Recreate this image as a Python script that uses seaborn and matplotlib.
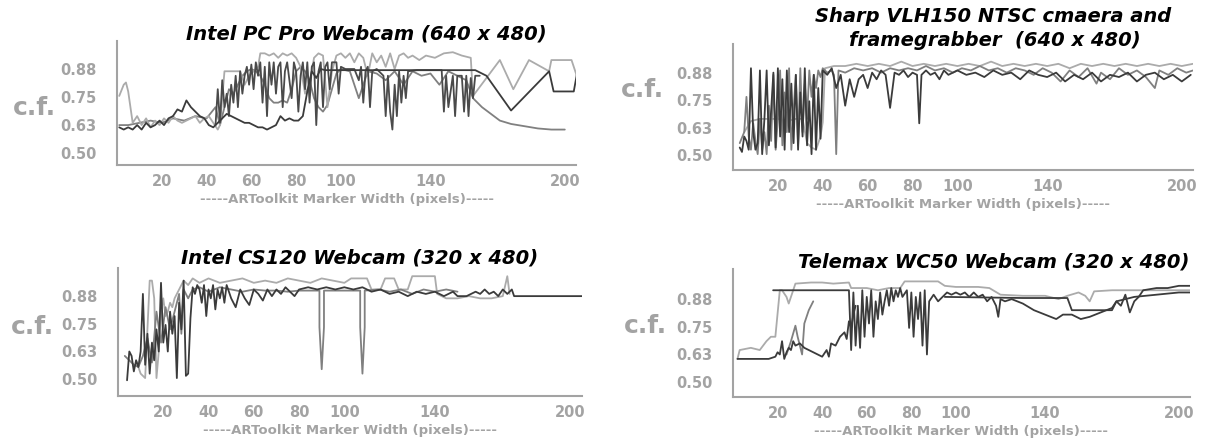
import seaborn as sns
import matplotlib.pyplot as plt

# ---- data: (marker width, c.f.) pairs ----
# Intel PC Pro Webcam (640 x 480)
pcpro_dark = [(1, 0.61), (3, 0.60), (5, 0.61), (7, 0.60), (9, 0.62), (11, 0.60), (13, 0.63), (15, 0.61),
              (17, 0.62), (19, 0.64), (21, 0.62), (23, 0.65), (25, 0.66), (27, 0.69), (29, 0.68), (31, 0.73),
              (33, 0.70), (35, 0.68), (37, 0.66), (39, 0.65), (41, 0.62), (43, 0.61), (45, 0.63), (47, 0.65),
              (49, 0.67), (51, 0.66), (53, 0.65), (55, 0.64), (57, 0.63), (59, 0.63), (61, 0.62), (63, 0.61),
              (65, 0.61), (67, 0.60), (69, 0.61), (71, 0.62), (73, 0.66), (75, 0.64), (77, 0.65), (79, 0.64),
              (81, 0.64), (83, 0.66), (85, 0.77), (87, 0.86), (89, 0.83), (91, 0.87), (93, 0.865), (100, 0.865),
              (120, 0.865), (140, 0.865), (160, 0.865), (165, 0.84), (176, 0.685), (193, 0.86), (195, 0.77),
              (204, 0.77), (206, 0.88)]
pcpro_spiky = [(44, 0.62), (45, 0.78), (46, 0.63), (47, 0.82), (48, 0.70), (49, 0.76), (50, 0.66), (51, 0.80),
               (52, 0.72), (53, 0.84), (54, 0.70), (55, 0.86), (56, 0.76), (57, 0.84), (58, 0.88), (59, 0.80),
               (60, 0.89), (61, 0.78), (62, 0.90), (63, 0.84), (64, 0.90), (65, 0.72), (66, 0.88), (67, 0.66),
               (68, 0.90), (69, 0.80), (70, 0.90), (71, 0.76), (72, 0.88), (73, 0.90), (74, 0.70), (75, 0.86),
               (76, 0.90), (77, 0.82), (78, 0.74), (79, 0.90), (80, 0.86), (81, 0.68), (82, 0.84), (83, 0.90),
               (84, 0.78), (85, 0.90), (86, 0.72), (87, 0.88), (88, 0.90), (89, 0.62), (90, 0.86), (91, 0.90),
               (92, 0.70), (93, 0.88), (94, 0.90), (95, 0.78), (96, 0.90), (98, 0.90), (99, 0.76), (100, 0.88),
               (102, 0.87), (106, 0.87), (108, 0.82), (109, 0.88), (110, 0.72), (111, 0.86), (112, 0.88),
               (113, 0.70), (114, 0.86), (116, 0.87), (119, 0.84), (120, 0.66), (121, 0.84), (122, 0.68),
               (123, 0.60), (124, 0.80), (125, 0.66), (126, 0.86), (127, 0.72), (128, 0.84), (129, 0.74),
               (130, 0.86), (134, 0.865), (140, 0.865), (145, 0.865), (146, 0.68), (147, 0.84), (148, 0.70),
               (150, 0.84), (151, 0.66), (152, 0.84), (154, 0.84), (155, 0.68), (156, 0.84), (157, 0.66),
               (158, 0.83), (159, 0.74), (160, 0.84), (162, 0.84)]
pcpro_mid = [(1, 0.62), (5, 0.62), (10, 0.63), (15, 0.64), (20, 0.63), (25, 0.65), (30, 0.64), (35, 0.66),
             (40, 0.65), (44, 0.70), (46, 0.62), (48, 0.70), (50, 0.78), (52, 0.76), (54, 0.80), (56, 0.84),
             (58, 0.86), (60, 0.87), (62, 0.86), (64, 0.84), (66, 0.80), (68, 0.74), (70, 0.72), (72, 0.72),
             (74, 0.73), (76, 0.72), (78, 0.78), (80, 0.86), (82, 0.88), (84, 0.86), (86, 0.82), (88, 0.74),
             (90, 0.70), (92, 0.68), (94, 0.71), (96, 0.78), (98, 0.85), (100, 0.87), (104, 0.86), (108, 0.74),
             (112, 0.86), (116, 0.85), (120, 0.82), (124, 0.86), (128, 0.80), (132, 0.86), (136, 0.84),
             (140, 0.85), (144, 0.80), (148, 0.86), (152, 0.84), (156, 0.82), (159, 0.74), (163, 0.70),
             (167, 0.67), (171, 0.64), (176, 0.625), (182, 0.615), (188, 0.605), (194, 0.60), (200, 0.60)]
pcpro_light = [(1, 0.75), (3, 0.80), (4, 0.81), (5, 0.77), (7, 0.63), (9, 0.66), (11, 0.62), (13, 0.65),
               (15, 0.61), (17, 0.64), (19, 0.62), (21, 0.65), (23, 0.63), (25, 0.66), (27, 0.64), (29, 0.63),
               (31, 0.64), (33, 0.65), (35, 0.66), (37, 0.63), (39, 0.65), (41, 0.66), (43, 0.63), (45, 0.60),
               (46, 0.62), (48, 0.86), (55, 0.86), (57, 0.80), (59, 0.84), (61, 0.86), (63, 0.88), (64, 0.94),
               (66, 0.94), (68, 0.93), (70, 0.94), (72, 0.92), (74, 0.94), (76, 0.93), (78, 0.94), (80, 0.92),
               (82, 0.88), (84, 0.76), (86, 0.80), (88, 0.92), (90, 0.94), (92, 0.93), (94, 0.70), (96, 0.86),
               (98, 0.93), (100, 0.94), (102, 0.92), (104, 0.94), (106, 0.90), (108, 0.94), (110, 0.92),
               (112, 0.84), (114, 0.94), (116, 0.90), (118, 0.93), (120, 0.88), (122, 0.94), (124, 0.87),
               (126, 0.93), (128, 0.94), (130, 0.92), (132, 0.93), (135, 0.91), (138, 0.93), (142, 0.92),
               (146, 0.94), (150, 0.945), (154, 0.93), (158, 0.92), (159, 0.75), (171, 0.91), (177, 0.78),
               (184, 0.91), (193, 0.86), (194, 0.91), (203, 0.91), (206, 0.82)]

# Sharp VLH150 NTSC camera and framegrabber (640 x 480)
sharp_dark = [(3, 0.53), (4, 0.51), (5, 0.58), (6, 0.56), (7, 0.52), (8, 0.89), (9, 0.60), (10, 0.52),
              (11, 0.55), (12, 0.88), (13, 0.50), (14, 0.66), (15, 0.88), (16, 0.54), (17, 0.70), (18, 0.87),
              (19, 0.53), (20, 0.89), (21, 0.58), (22, 0.84), (23, 0.52), (24, 0.88), (25, 0.60), (26, 0.82),
              (27, 0.55), (28, 0.86), (29, 0.52), (30, 0.78), (31, 0.58), (32, 0.89), (33, 0.54), (34, 0.74),
              (35, 0.50), (36, 0.86), (37, 0.52), (38, 0.80), (39, 0.57), (40, 0.88), (42, 0.86), (44, 0.89),
              (46, 0.80), (48, 0.86), (50, 0.72), (52, 0.84), (54, 0.76), (56, 0.84), (58, 0.86), (60, 0.80),
              (62, 0.87), (64, 0.84), (66, 0.88), (68, 0.86), (70, 0.71), (72, 0.87), (74, 0.86), (76, 0.88),
              (78, 0.85), (80, 0.87), (82, 0.86), (83, 0.64), (84, 0.86), (86, 0.88), (88, 0.86), (90, 0.87),
              (92, 0.84), (94, 0.88), (96, 0.86), (98, 0.87), (100, 0.88), (104, 0.86), (108, 0.87),
              (112, 0.85), (116, 0.88), (120, 0.86), (124, 0.87), (128, 0.84), (132, 0.88), (136, 0.86),
              (140, 0.85), (144, 0.87), (148, 0.83), (152, 0.86), (156, 0.84), (160, 0.87), (164, 0.83),
              (168, 0.86), (172, 0.85), (176, 0.87), (180, 0.83), (184, 0.86), (188, 0.87), (192, 0.84),
              (196, 0.86), (200, 0.83), (204, 0.86)]
sharp_mid = [(3, 0.55), (5, 0.60), (6, 0.76), (7, 0.58), (8, 0.52), (9, 0.64), (10, 0.56), (11, 0.50),
             (12, 0.66), (13, 0.52), (14, 0.60), (15, 0.50), (16, 0.72), (17, 0.56), (18, 0.86), (19, 0.52),
             (20, 0.66), (21, 0.88), (22, 0.54), (23, 0.78), (24, 0.60), (25, 0.89), (26, 0.52), (27, 0.70),
             (28, 0.86), (29, 0.54), (30, 0.89), (31, 0.60), (32, 0.82), (33, 0.66), (34, 0.88), (35, 0.76),
             (36, 0.86), (37, 0.80), (38, 0.88), (39, 0.85), (40, 0.89), (42, 0.87), (44, 0.88), (45, 0.86),
             (46, 0.50), (47, 0.88), (50, 0.87), (54, 0.89), (58, 0.88), (62, 0.89), (66, 0.87), (70, 0.89),
             (74, 0.88), (78, 0.89), (82, 0.88), (86, 0.90), (90, 0.88), (94, 0.89), (98, 0.87), (102, 0.89),
             (106, 0.88), (110, 0.90), (114, 0.88), (118, 0.89), (122, 0.87), (126, 0.89), (130, 0.88),
             (134, 0.86), (138, 0.89), (142, 0.87), (146, 0.83), (150, 0.88), (154, 0.85), (158, 0.89),
             (162, 0.82), (164, 0.87), (168, 0.84), (172, 0.89), (176, 0.86), (180, 0.88), (184, 0.85),
             (188, 0.80), (190, 0.88), (194, 0.86), (198, 0.89), (202, 0.87), (205, 0.88)]
sharp_light = [(5, 0.60), (8, 0.65), (12, 0.66), (16, 0.66), (20, 0.66), (24, 0.65), (28, 0.66), (31, 0.66),
               (33, 0.55), (35, 0.53), (37, 0.52), (39, 0.58), (40, 0.645), (41, 0.89), (45, 0.90), (50, 0.90),
               (55, 0.91), (60, 0.90), (65, 0.91), (70, 0.90), (75, 0.92), (80, 0.90), (85, 0.91), (90, 0.90),
               (95, 0.91), (100, 0.90), (105, 0.91), (110, 0.90), (115, 0.92), (120, 0.90), (125, 0.91),
               (130, 0.90), (135, 0.91), (140, 0.90), (145, 0.91), (150, 0.89), (155, 0.91), (160, 0.90),
               (165, 0.91), (170, 0.90), (175, 0.91), (180, 0.90), (185, 0.91), (190, 0.90), (195, 0.91),
               (200, 0.90), (205, 0.91)]

# Intel CS120 Webcam (320 x 480)
cs120_dark = [(4, 0.49), (5, 0.62), (6, 0.60), (7, 0.53), (8, 0.58), (9, 0.55), (10, 0.62), (11, 0.88),
              (12, 0.56), (13, 0.70), (14, 0.52), (15, 0.66), (16, 0.58), (17, 0.72), (18, 0.62), (19, 0.93),
              (20, 0.66), (21, 0.74), (22, 0.62), (23, 0.80), (24, 0.70), (25, 0.78), (26, 0.50), (27, 0.84),
              (28, 0.72), (29, 0.94), (30, 0.51), (31, 0.52), (32, 0.77), (33, 0.91), (34, 0.88), (35, 0.92),
              (36, 0.90), (37, 0.84), (38, 0.92), (39, 0.78), (40, 0.90), (41, 0.86), (42, 0.92), (43, 0.81),
              (44, 0.90), (45, 0.86), (46, 0.91), (47, 0.84), (48, 0.92), (50, 0.86), (52, 0.82), (54, 0.90),
              (56, 0.86), (58, 0.83), (60, 0.90), (62, 0.88), (64, 0.85), (66, 0.90), (68, 0.87), (70, 0.90),
              (72, 0.88), (74, 0.91), (76, 0.89), (78, 0.87), (80, 0.90), (84, 0.91), (88, 0.90), (92, 0.91),
              (96, 0.90), (100, 0.91), (104, 0.90), (108, 0.91), (112, 0.89), (116, 0.90), (120, 0.88),
              (124, 0.89), (128, 0.87), (132, 0.89), (136, 0.88), (140, 0.89), (144, 0.87), (148, 0.89),
              (150, 0.87), (154, 0.87), (158, 0.89), (160, 0.88), (162, 0.90), (164, 0.88), (166, 0.89),
              (168, 0.87), (170, 0.90), (172, 0.88), (174, 0.90), (175, 0.87), (205, 0.87)]
cs120_mid = [(3, 0.60), (5, 0.58), (7, 0.56), (9, 0.55), (11, 0.60), (13, 0.68), (15, 0.57), (17, 0.80),
             (19, 0.66), (21, 0.82), (23, 0.72), (25, 0.80), (27, 0.88), (28, 0.70), (29, 0.90), (31, 0.86),
             (33, 0.90), (36, 0.91), (40, 0.89), (45, 0.91), (50, 0.90), (55, 0.89), (60, 0.90), (65, 0.895),
             (70, 0.895), (75, 0.89), (80, 0.895), (85, 0.895), (89, 0.895), (89, 0.73), (90, 0.54), (91, 0.73),
             (91, 0.895), (100, 0.895), (107, 0.895), (107, 0.73), (108, 0.52), (109, 0.73), (109, 0.895),
             (115, 0.90), (120, 0.89), (125, 0.90), (130, 0.88), (135, 0.90), (140, 0.89), (145, 0.90),
             (150, 0.89)]
cs120_light = [(8, 0.58), (10, 0.52), (12, 0.50), (14, 0.94), (15, 0.94), (16, 0.86), (17, 0.50), (18, 0.62),
               (19, 0.80), (20, 0.86), (21, 0.78), (22, 0.80), (23, 0.84), (24, 0.82), (25, 0.86), (27, 0.90),
               (29, 0.94), (31, 0.92), (33, 0.95), (36, 0.93), (40, 0.95), (45, 0.93), (50, 0.94), (55, 0.95),
               (60, 0.93), (65, 0.94), (70, 0.93), (75, 0.95), (80, 0.94), (85, 0.93), (90, 0.95), (95, 0.94),
               (100, 0.93), (103, 0.95), (110, 0.95), (112, 0.90), (116, 0.90), (118, 0.95), (122, 0.95),
               (124, 0.90), (128, 0.90), (130, 0.96), (140, 0.96), (141, 0.88), (145, 0.86), (150, 0.86),
               (155, 0.87), (160, 0.86), (165, 0.86), (170, 0.87), (172, 0.96), (173, 0.88)]

# Telemax WC50 Webcam (320 x 480)
telemax_dark = [(18, 0.91), (52, 0.91), (53, 0.64), (54, 0.90), (55, 0.66), (56, 0.84), (57, 0.65), (58, 0.91),
                (59, 0.70), (60, 0.88), (61, 0.76), (62, 0.91), (63, 0.70), (64, 0.86), (65, 0.78), (66, 0.90),
                (67, 0.80), (68, 0.86), (69, 0.91), (70, 0.84), (71, 0.92), (72, 0.86), (73, 0.91), (74, 0.88),
                (75, 0.92), (76, 0.88), (78, 0.91), (79, 0.74), (80, 0.90), (81, 0.70), (82, 0.88), (83, 0.78),
                (84, 0.90), (85, 0.66), (86, 0.91), (87, 0.62), (88, 0.86), (90, 0.89), (92, 0.86), (94, 0.88),
                (96, 0.90), (98, 0.89), (100, 0.90), (102, 0.89), (104, 0.90), (106, 0.88), (108, 0.90),
                (110, 0.88), (112, 0.89), (114, 0.86), (116, 0.88), (118, 0.84), (119, 0.79), (120, 0.87),
                (122, 0.86), (125, 0.87), (130, 0.85), (135, 0.82), (140, 0.80), (145, 0.78), (148, 0.80),
                (152, 0.80), (156, 0.78), (160, 0.79), (165, 0.81), (170, 0.83), (172, 0.86), (174, 0.84),
                (176, 0.89), (178, 0.81), (180, 0.86), (182, 0.88), (184, 0.91), (190, 0.92), (195, 0.92),
                (200, 0.93), (205, 0.93)]
telemax_low = [(2, 0.60), (5, 0.60), (8, 0.60), (12, 0.60), (16, 0.60), (19, 0.61), (20, 0.63), (21, 0.62),
               (22, 0.68), (23, 0.60), (24, 0.63), (25, 0.65), (26, 0.64), (27, 0.68), (28, 0.66), (30, 0.67),
               (32, 0.65), (34, 0.64), (36, 0.63), (38, 0.62), (40, 0.61), (42, 0.64), (43, 0.61), (44, 0.67),
               (46, 0.66), (48, 0.70), (50, 0.72), (51, 0.69), (52, 0.77), (53, 0.74), (54, 0.80), (55, 0.84)]
telemax_flat = [(95, 0.88), (130, 0.875), (150, 0.875), (152, 0.82), (170, 0.82), (172, 0.86), (180, 0.88),
                (200, 0.90), (205, 0.90)]
telemax_mid = [(24, 0.62), (26, 0.68), (28, 0.75), (29, 0.70), (31, 0.62), (32, 0.76), (34, 0.82), (36, 0.86)]
telemax_light = [(2, 0.60), (3, 0.64), (8, 0.65), (12, 0.64), (15, 0.68), (17, 0.70), (19, 0.70), (21, 0.91),
                 (22, 0.91), (24, 0.88), (25, 0.85), (27, 0.91), (28, 0.94), (35, 0.945), (40, 0.945),
                 (45, 0.94), (52, 0.945), (53, 0.92), (60, 0.92), (65, 0.91), (70, 0.92), (75, 0.92),
                 (77, 0.95), (85, 0.95), (92, 0.95), (95, 0.93), (100, 0.925), (110, 0.925), (115, 0.92),
                 (120, 0.89), (130, 0.885), (140, 0.885), (146, 0.87), (150, 0.885), (155, 0.90), (158, 0.885),
                 (160, 0.86), (162, 0.905), (170, 0.91), (180, 0.91), (190, 0.91), (200, 0.91), (205, 0.91)]

y_ticks = [0.5, 0.625, 0.75, 0.875]
y_labels = ["0.50", "0.63", "0.75", "0.88"]
x_ticks = [20, 40, 60, 80, 100, 140, 200]
x_minor = [120, 160, 180]

DARK = "#3b3b3b"
MID = "#808080"
LIGHT = "#ababab"
GREY = "#a3a3a3"

W, H = 1207, 439


def px_rect(left, top, right, bottom):
    return [left / W, 1 - bottom / H, (right - left) / W, (bottom - top) / H]


def draw_panel(fig, box, ylim, series, cf_xy):
    ax = fig.add_axes(px_rect(*box))
    for pts, color in series:
        xs = [p[0] for p in pts]
        ys = [p[1] for p in pts]
        sns.lineplot(x=xs, y=ys, ax=ax, color=color, lw=1.3, estimator=None, sort=False)
    ax.set_xlim(0, 205)
    ax.set_ylim(*ylim)
    for s in ["top", "right"]:
        ax.spines[s].set_visible(False)
    for s in ["left", "bottom"]:
        ax.spines[s].set_color(GREY)
        ax.spines[s].set_linewidth(1.5)
    ax.set_yticks(y_ticks)
    ax.set_yticklabels(y_labels, fontweight="bold")
    ax.set_xticks(x_ticks)
    ax.set_xticklabels([str(t) for t in x_ticks], fontweight="bold")
    ax.set_xticks(x_minor, minor=True)
    ax.tick_params(axis="y", length=10, width=1.2, color=GREY, pad=5, labelcolor=GREY, labelsize=10.5)
    ax.tick_params(axis="x", which="major", length=0, pad=6, labelcolor=GREY, labelsize=10.5)
    ax.tick_params(axis="x", which="minor", length=6, width=1.2, color=GREY)
    ax.set_xlabel("-----ARToolkit Marker Width (pixels)-----", color=GREY, fontsize=9.5,
                  fontweight="bold", labelpad=3)
    ax.set_ylabel("")
    fig.text(cf_xy[0] / W, 1 - cf_xy[1] / H, "c.f.", color=GREY, fontsize=18, fontweight="bold",
             ha="center", va="center")
    return ax


sns.set_style("white")
plt.rcParams["font.family"] = ["DejaVu Sans"]

fig = plt.figure(figsize=(W / 100, H / 100), dpi=100)

draw_panel(fig, (117, 42, 576, 166), (0.442, 0.995),
           [(pcpro_mid, MID), (pcpro_light, LIGHT), (pcpro_spiky, "#4a4a4a"), (pcpro_dark, DARK)], (34, 108))
draw_panel(fig, (733, 45, 1193, 171), (0.428, 1.0),
           [(sharp_light, LIGHT), (sharp_mid, MID), (sharp_dark, DARK)], (642, 90))
draw_panel(fig, (118, 269, 582, 397), (0.419, 0.997),
           [(cs120_light, LIGHT), (cs120_mid, MID), (cs120_dark, DARK)], (32, 327))
draw_panel(fig, (733, 270, 1190, 398), (0.428, 1.006),
           [(telemax_light, LIGHT), (telemax_mid, MID), (telemax_flat, DARK), (telemax_low, DARK),
            (telemax_dark, DARK)], (645, 326))

title_kw = dict(fontsize=14, fontweight="heavy", style="italic", ha="center", va="center", color="black")
fig.text(366 / W, 1 - 34 / H, "Intel PC Pro Webcam (640 x 480)", **title_kw)
fig.text(993 / W, 1 - 17 / H, "Sharp VLH150 NTSC cmaera and", **title_kw)
fig.text(995 / W, 1 - 40 / H, "framegrabber  (640 x 480)", **title_kw)
fig.text(360 / W, 1 - 258 / H, "Intel CS120 Webcam (320 x 480)", **title_kw)
fig.text(994 / W, 1 - 262 / H, "Telemax WC50 Webcam (320 x 480)", **title_kw)

fig.savefig("out.png", dpi=100)
